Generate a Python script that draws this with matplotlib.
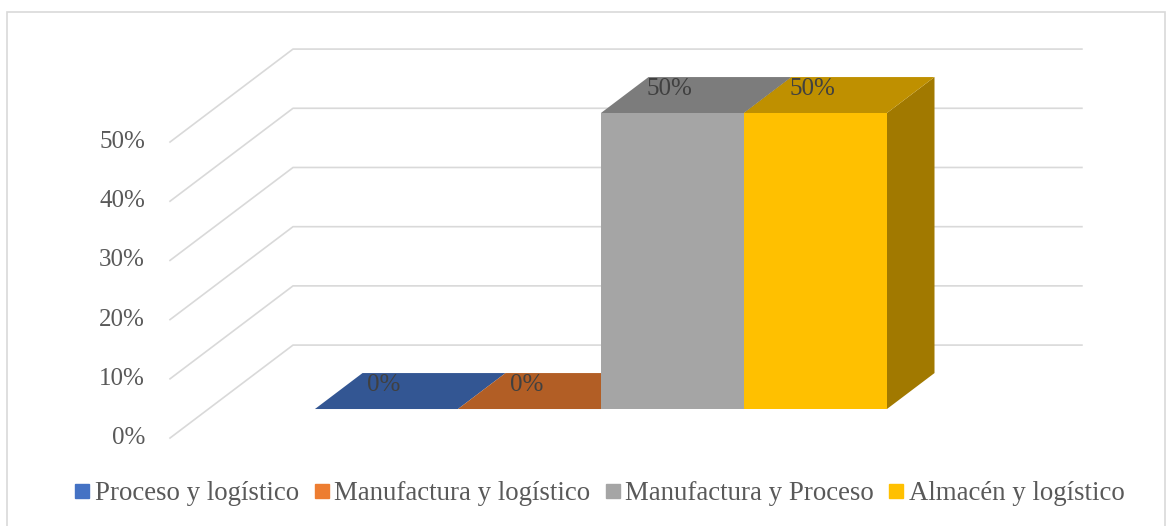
import matplotlib
matplotlib.use('Agg')
import matplotlib.pyplot as plt
from matplotlib.lines import Line2D
from matplotlib.patches import Rectangle, Polygon
from matplotlib.colors import to_rgb

# datos del grafico
categorias = ['Proceso y logístico', 'Manufactura y logístico',
              'Manufactura y Proceso', 'Almacén y logístico']
valores = [0.0, 0.0, 0.5, 0.5]
ticks = [0.0, 0.1, 0.2, 0.3, 0.4, 0.5]
colores = ['#4472C4', '#ED7D31', '#A5A5A5', '#FFC000']

plt.rcParams['font.family'] = ['Liberation Serif', 'DejaVu Serif']

# proyeccion oblicua (profundidad completa del piso)
DX, DY = 0.86, 0.157
Z0, Z1 = 0.312, 0.699      # frente y fondo de las barras
X_PARED, X_FIN = -1.245, 4.272


def oscuro(c, f):
    r, g, b = to_rgb(c)
    return (r * f, g * f, b * f)


def proy(x, y, z):
    return x + z * DX, y + z * DY


fig = plt.figure(figsize=(11.72, 5.26), dpi=100)
ax = fig.add_axes([0, 0, 1, 1])
ax.set_xlim(-2.434, 5.762)
ax.set_ylim(-0.1486, 0.7399)
ax.axis('off')

# lineas de cuadricula (pared lateral + pared del fondo)
for v in ticks:
    p0 = proy(X_PARED, v, 0)
    p1 = proy(X_PARED, v, 1)
    p2 = proy(X_FIN, v, 1)
    ax.plot([p0[0], p1[0], p2[0]], [p0[1], p1[1], p2[1]],
            color='#D9D9D9', lw=1.2, zorder=1)
    ax.text(-1.42, v, f'{v:.0%}', ha='right', va='center',
            fontsize=18, color='#595959')

# barras 3D
for i, (v, c) in enumerate(zip(valores, colores)):
    izq, der = i - 0.5, i + 0.5
    lado = [proy(der, 0, Z0), proy(der, v, Z0), proy(der, v, Z1), proy(der, 0, Z1)]
    ax.add_patch(Polygon(lado, closed=True, fc=oscuro(c, 0.63), lw=0, zorder=2))
    tapa = [proy(izq, v, Z0), proy(der, v, Z0), proy(der, v, Z1), proy(izq, v, Z1)]
    ax.add_patch(Polygon(tapa, closed=True, fc=oscuro(c, 0.75), lw=0, zorder=2))
    fx, fy = proy(i, 0, Z0)
    ax.bar(fx, v, width=1.0, bottom=fy, color=c, lw=0, zorder=2)
    ax.annotate(f'{v:.0%}', xy=(fx, fy + v), xytext=(-3, 24),
                textcoords='offset pixels', ha='center', va='center',
                fontsize=18, color='#404040', zorder=3)

# leyenda
handles = [Line2D([], [], marker='s', ls='', color=c, markersize=9.5)
           for c in colores]
fig.legend(handles, categorias, loc='center',
           bbox_to_anchor=(600 / 1172, 1 - 494 / 526), ncol=4, frameon=False,
           fontsize=19.4, handlelength=0.55, handletextpad=0.2,
           columnspacing=0.55, labelcolor='#595959')

# borde del area del grafico (el borde inferior queda fuera de la imagen)
fig.add_artist(Rectangle((7 / 1172, -0.05), 1158 / 1172, 1 - 12 / 526 + 0.05,
                         transform=fig.transFigure, fill=False,
                         ec='#D9D9D9', lw=1.2))

fig.savefig('out.png', dpi=100)
